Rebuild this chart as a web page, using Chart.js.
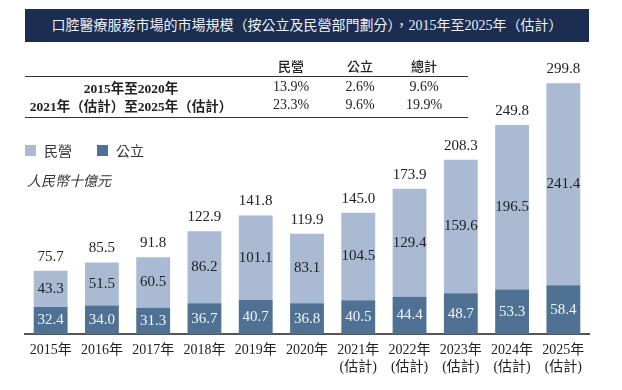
<!DOCTYPE html>
<html>
<head>
<meta charset="utf-8">
<script src="https://cdn.jsdelivr.net/npm/chart.js@4.4.0/dist/chart.umd.min.js"></script>
<style>
  body { margin: 0; background: #fff; }
  #wrap { position: relative; width: 622px; height: 390px; overflow: hidden;
          font-family: "Liberation Serif", "Noto Sans CJK TC", serif; color: #222; }
  #chart { position: absolute; left: 0; top: 0; }
  .title { position: absolute; left: 25px; top: 9px; width: 564px; height: 33px; background: #1b2d50;
           color: #eef1f6; font-size: 14px; line-height: 33px; text-align: center; }
  .cell { position: absolute; transform: translate(-50%, -50%); white-space: nowrap; font-size: 14px; }
  .head { font-family: "Noto Sans CJK TC", sans-serif; font-weight: 500; font-size: 13px; }
  .period { font-weight: bold; font-size: 13.5px; }
  .rule { position: absolute; left: 25px; width: 443px; height: 0; border-top: 1.5px solid #333; }
  .legend { position: absolute; top: 140px; font-size: 14px; line-height: 20px;
            font-family: "Noto Sans CJK TC", sans-serif; color: #333; }
  .legend span.sw { position: absolute; top: 5px; width: 11px; height: 11px; }
  .unit { position: absolute; left: 27px; top: 170px; font-size: 14px; line-height: 20px; font-style: italic;
          font-family: "Noto Sans CJK TC", sans-serif; color: #333; }
</style>
</head>
<body>
<div id="wrap">
  <canvas id="chart" width="622" height="390"></canvas>
  <div class="title">口腔醫療服務市場的市場規模（按公立及民營部門劃分），2015年至2025年（估計）</div>
  <div id="table"></div>
  <div id="legend"></div>
  <div class="unit">人民幣十億元</div>
</div>
<script>
const years = ['2015年', '2016年', '2017年', '2018年', '2019年', '2020年',
  ['2021年', '(估計)'], ['2022年', '(估計)'], ['2023年', '(估計)'], ['2024年', '(估計)'], ['2025年', '(估計)']]
const publicSector = [32.4, 34.0, 31.3, 36.7, 40.7, 36.8, 40.5, 44.4, 48.7, 53.3, 58.4]
const privateSector = [43.3, 51.5, 60.5, 86.2, 101.1, 83.1, 104.5, 129.4, 159.6, 196.5, 241.4]
const totals = [75.7, 85.5, 91.8, 122.9, 141.8, 119.9, 145.0, 173.9, 208.3, 249.8, 299.8]

const growthHeads = ['民營', '公立', '總計']
const growthPeriods = ['2015年至2020年', '2021年（估計）至2025年（估計）']
const growthPrivate = ['13.9%', '23.3%']
const growthPublic = ['2.6%', '9.6%']
const growthTotal = ['9.6%', '19.9%']

const privateColor = '#a9bad2'
const publicColor = '#4f7194'

// CAGR table above the chart
const table = document.getElementById('table')
const colX = [291, 360, 424]
const rowY = [87, 105]
function cell(text, x, y, cls) {
  const d = document.createElement('div')
  d.className = 'cell ' + (cls || '')
  d.style.left = x + 'px'
  d.style.top = y + 'px'
  d.textContent = text
  table.appendChild(d)
}
growthHeads.forEach((h, i) => cell(h, colX[i], 65, 'head'))
growthPeriods.forEach((p, r) => {
  cell(p, 131, rowY[r], 'period')
  cell(growthPrivate[r], colX[0], rowY[r])
  cell(growthPublic[r], colX[1], rowY[r])
  cell(growthTotal[r], colX[2], rowY[r])
})
;[76, 117].forEach(y => {
  const l = document.createElement('div')
  l.className = 'rule'
  l.style.top = y + 'px'
  table.appendChild(l)
})

// legend
const legend = document.getElementById('legend')
;[['民營', privateColor, 25], ['公立', publicColor, 97]].forEach(([name, color, x]) => {
  const item = document.createElement('div')
  item.className = 'legend'
  item.style.left = x + 'px'
  item.innerHTML = '<span class="sw" style="left:0;background:' + color + '"></span>' +
    '<span style="margin-left:19px">' + name + '</span>'
  legend.appendChild(item)
})

const valueLabels = {
  id: 'valueLabels',
  afterDatasetsDraw(chart) {
    const ctx = chart.ctx
    ctx.save()
    ctx.font = '15px "Liberation Serif", serif'
    ctx.textAlign = 'center'
    ctx.textBaseline = 'middle'
    chart.data.datasets.forEach((ds, i) => {
      const meta = chart.getDatasetMeta(i)
      meta.data.forEach((bar, j) => {
        ctx.fillStyle = i === 0 ? '#f2f4f8' : '#222'
        ctx.fillText(ds.data[j].toFixed(1), bar.x, (bar.y + bar.base) / 2)
        if (i === chart.data.datasets.length - 1) {
          ctx.fillStyle = '#222'
          ctx.fillText(totals[j].toFixed(1), bar.x, bar.y - 14)
        }
      })
    })
    ctx.restore()
  }
}

new Chart(document.getElementById('chart').getContext('2d'), {
  type: 'bar',
  data: {
    labels: years,
    datasets: [
      { label: '公立', data: publicSector, backgroundColor: publicColor },
      { label: '民營', data: privateSector, backgroundColor: privateColor }
    ]
  },
  options: {
    responsive: false,
    animation: false,
    layout: { padding: { left: 25, right: 33, top: 58, bottom: 0 } },
    datasets: { bar: { barPercentage: 0.66, categoryPercentage: 1 } },
    plugins: { legend: { display: false }, tooltip: { enabled: false } },
    scales: {
      x: {
        stacked: true,
        grid: { display: false, drawTicks: false },
        border: { display: true, color: '#555', width: 2 },
        ticks: { color: '#222', padding: 8, maxRotation: 0,
                  font: { family: '"Liberation Serif", "Noto Sans CJK TC", serif', size: 14 } },
        afterFit(scale) { scale.height = 56 }
      },
      y: { stacked: true, display: false, min: 0, max: 330 }
    }
  },
  plugins: [valueLabels]
})
</script>
</body>
</html>
